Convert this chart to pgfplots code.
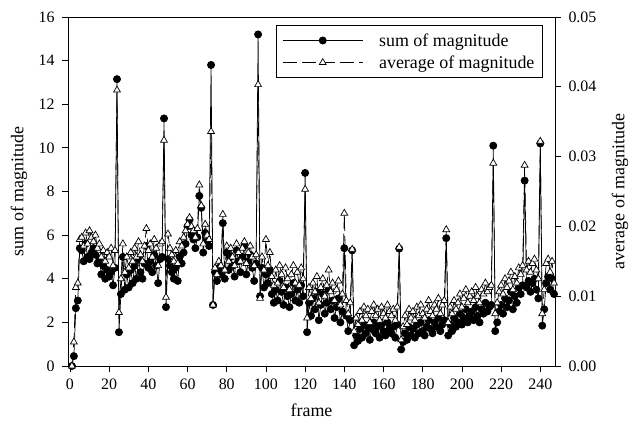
\documentclass[border=0pt]{standalone}
\usepackage{fontspec}
\setmainfont{Liberation Serif}
\usepackage{pgfplots}
\pgfplotsset{compat=1.18}
\usepackage{pgfplotstable}

\pgfplotstableread{
f s a
1 0 0
2 0.45 0.00344
3 2.65 0.01125
4 3.0 0.01188
5 5.4 0.01813
6 5.3 0.01844
7 4.8 0.01719
8 5.6 0.01906
9 5.0 0.01750
10 4.9 0.01938
11 5.2 0.01844
12 5.4 0.01781
13 5.1 0.01875
14 4.7 0.01688
15 4.9 0.01750
16 4.2 0.01563
17 4.6 0.01656
18 4.0 0.01500
19 4.4 0.01625
20 4.1 0.01563
21 4.3 0.01688
22 3.7 0.01438
23 4.5 0.01656
24 13.15 0.03953
25 1.55 0.00766
26 3.3 0.01250
27 5.0 0.01750
28 3.5 0.01344
29 4.2 0.01563
30 3.6 0.01406
31 4.4 0.01625
32 3.8 0.01500
33 4.6 0.01688
34 4.0 0.01563
35 4.9 0.01781
36 4.3 0.01594
37 4.0 0.01500
38 4.7 0.01719
39 5.5 0.01969
40 4.5 0.01656
41 4.8 0.01750
42 4.3 0.01563
43 5.1 0.01813
44 4.6 0.01688
45 3.8 0.01438
46 4.9 0.01750
47 5.0 0.01781
48 11.35 0.03234
49 2.7 0.00984
50 4.9 0.01891
51 4.6 0.01688
52 4.3 0.01594
53 4.0 0.01500
54 4.5 0.01656
55 3.9 0.01469
56 5.0 0.01781
57 4.7 0.01719
58 5.2 0.01844
59 5.6 0.01938
60 6.4 0.02031
61 6.7 0.02125
62 6.0 0.02000
63 5.8 0.01938
64 5.4 0.01844
65 5.9 0.01969
66 7.8 0.02594
67 7.25 0.02297
68 5.2 0.01750
69 6.1 0.02031
70 5.7 0.01875
71 5.5 0.01813
72 13.8 0.03359
73 2.8 0.00875
74 4.3 0.01406
75 3.9 0.01313
76 4.5 0.01500
77 4.2 0.01438
78 6.55 0.02172
79 4.0 0.01375
80 5.2 0.01719
81 4.4 0.01500
82 5.0 0.01688
83 4.6 0.01563
84 4.1 0.01438
85 5.3 0.01750
86 4.8 0.01625
87 4.3 0.01500
88 5.0 0.01688
89 5.5 0.01781
90 4.2 0.01469
91 4.8 0.01625
92 5.1 0.01719
93 4.5 0.01563
94 3.9 0.01438
95 4.7 0.01594
96 15.2 0.04031
97 3.2 0.00969
98 4.5 0.01563
99 3.6 0.01375
100 4.2 0.01813
101 3.8 0.01438
102 4.4 0.01625
103 3.3 0.01281
104 2.9 0.01156
105 3.5 0.01375
106 3.0 0.01188
107 3.9 0.01438
108 3.4 0.01313
109 2.8 0.01125
110 3.6 0.01406
111 3.2 0.01250
112 2.7 0.01094
113 3.3 0.01313
114 3.8 0.01438
115 3.0 0.01188
116 3.5 0.01344
117 2.9 0.01156
118 3.7 0.01406
119 3.2 0.01250
120 8.85 0.02531
121 1.55 0.00688
122 2.9 0.01125
123 2.3 0.00969
124 3.1 0.01188
125 2.6 0.01063
126 3.4 0.01281
127 2.1 0.00906
128 2.8 0.01125
129 3.3 0.01250
130 2.4 0.01000
131 2.9 0.01156
132 3.5 0.01375
133 2.6 0.01063
134 3.0 0.01188
135 2.2 0.00938
136 2.7 0.01094
137 3.1 0.01219
138 2.0 0.00875
139 2.5 0.01031
140 5.4 0.02188
141 2.3 0.00938
142 1.6 0.00750
143 2.1 0.00906
144 5.3 0.01672
145 0.95 0.00500
146 1.4 0.00688
147 1.15 0.00594
148 1.7 0.00781
149 1.3 0.00656
150 1.9 0.00844
151 1.5 0.00719
152 1.8 0.00813
153 1.2 0.00625
154 1.7 0.00781
155 2.0 0.00875
156 1.5 0.00719
157 1.8 0.00813
158 1.3 0.00656
159 1.9 0.00844
160 1.6 0.00750
161 1.4 0.00688
162 2.0 0.00875
163 1.7 0.00781
164 1.5 0.00719
165 1.8 0.00813
166 1.3 0.00656
167 1.9 0.00844
168 5.38 0.01703
169 0.76 0.00375
170 1.1 0.00563
171 1.5 0.00719
172 1.2 0.00594
173 1.8 0.00813
174 1.4 0.00688
175 1.7 0.00781
176 1.3 0.00656
177 1.9 0.00844
178 1.5 0.00719
179 2.0 0.00875
180 1.6 0.00750
181 1.4 0.00688
182 1.8 0.00813
183 2.1 0.00938
184 1.7 0.00781
185 1.5 0.00719
186 2.0 0.00875
187 1.8 0.00813
188 2.2 0.00969
189 1.6 0.00750
190 1.9 0.00875
191 2.1 0.00938
192 5.86 0.01953
193 1.4 0.00625
194 1.9 0.00844
195 1.6 0.00750
196 2.2 0.00938
197 1.8 0.00813
198 2.0 0.00906
199 2.4 0.01031
200 1.9 0.00844
201 2.2 0.00969
202 2.6 0.01094
203 2.0 0.00906
204 2.3 0.01000
205 2.5 0.01063
206 2.1 0.00938
207 2.7 0.01125
208 2.3 0.01000
209 2.0 0.00906
210 2.6 0.01094
211 2.4 0.01031
212 2.9 0.01188
213 2.5 0.01063
214 2.7 0.01125
215 2.8 0.01156
216 10.1 0.02906
217 1.6 0.00750
218 2.0 0.00906
219 2.5 0.01063
220 2.8 0.01156
221 2.4 0.01031
222 3.1 0.01250
223 2.7 0.01125
224 3.0 0.01219
225 3.4 0.01344
226 2.6 0.01094
227 3.2 0.01281
228 2.9 0.01188
229 3.6 0.01406
230 3.3 0.01313
231 3.7 0.01438
232 8.5 0.02875
233 3.6 0.01375
234 3.9 0.01500
235 3.4 0.01344
236 3.8 0.01469
237 4.0 0.01531
238 3.5 0.01375
239 3.1 0.01250
240 10.2 0.03219
241 1.85 0.00750
242 2.6 0.01094
243 3.8 0.01469
244 4.1 0.01531
245 3.5 0.01344
246 4.0 0.01500
247 3.3 0.01188
}\data

\begin{document}
\begin{tikzpicture}
\useasboundingbox (-68bp,-59bp) rectangle (565bp,366bp);
\pgfplotsset{
  common/.style={
    scale only axis, width=487bp, height=349bp,
    xmin=-1, xmax=247.5,
    tick align=outside, major tick length=6bp,
    axis line style={line width=0.8bp},
    tick style={line width=0.8bp, black},
    tick label style={font=\fontsize{16}{18}\selectfont},
    label style={font=\fontsize{18}{20}\selectfont},
    /pgf/number format/assume math mode=true,
  },
}
\begin{axis}[common,
  ymin=0, ymax=16,
  xtick={0,20,...,240}, ytick={0,2,...,16},
  xtick pos=bottom, ytick pos=left,
  xticklabel style={yshift=-3bp},
  yticklabel style={xshift=-4bp},
  xlabel={frame}, ylabel={sum of magnitude},
  xlabel style={at={(axis description cs:0.5,-0.126)}, anchor=center},
  ylabel style={at={(axis description cs:-0.1006,0.5)}, anchor=center},
]
\addplot[black, line width=0.7bp, mark=*, mark size=3.6bp, mark options={fill=black}] table[x=f,y=s]{\data};
\end{axis}
\begin{axis}[common,
  ymin=0, ymax=0.05,
  axis x line=none, axis y line*=right,
  ytick={0,0.01,0.02,0.03,0.04,0.05},
  scaled y ticks=false,
  yticklabel style={xshift=4bp, /pgf/number format/.cd, fixed, fixed zerofill, precision=2},
  ylabel={average of magnitude},
  ylabel style={at={(axis description cs:1.1335,0.5)}, anchor=center},
  legend cell align=left,
  legend style={at={(0.975,0.977)}, anchor=north east, draw=black, line width=0.8bp,
    font=\fontsize{18}{20}\selectfont, inner xsep=6bp, inner ysep=6bp, row sep=4bp,
    /tikz/every odd column/.append style={column sep=14bp}},
  legend image code/.code={\draw[mark repeat=2,mark phase=2,#1] plot coordinates {(0bp,0bp) (40bp,0bp) (80bp,0bp)};},
]
\addlegendimage{black, line width=0.7bp, mark=*, mark size=3.6bp, mark options={fill=black}}
\addlegendentry{sum of magnitude}
\addplot[black, line width=0.7bp, dash pattern=on 14bp off 5bp, mark=triangle*, mark size=4bp, mark options={fill=white, solid}] table[x=f,y=a]{\data};
\addlegendentry{average of magnitude}
\end{axis}
\end{tikzpicture}
\end{document}
